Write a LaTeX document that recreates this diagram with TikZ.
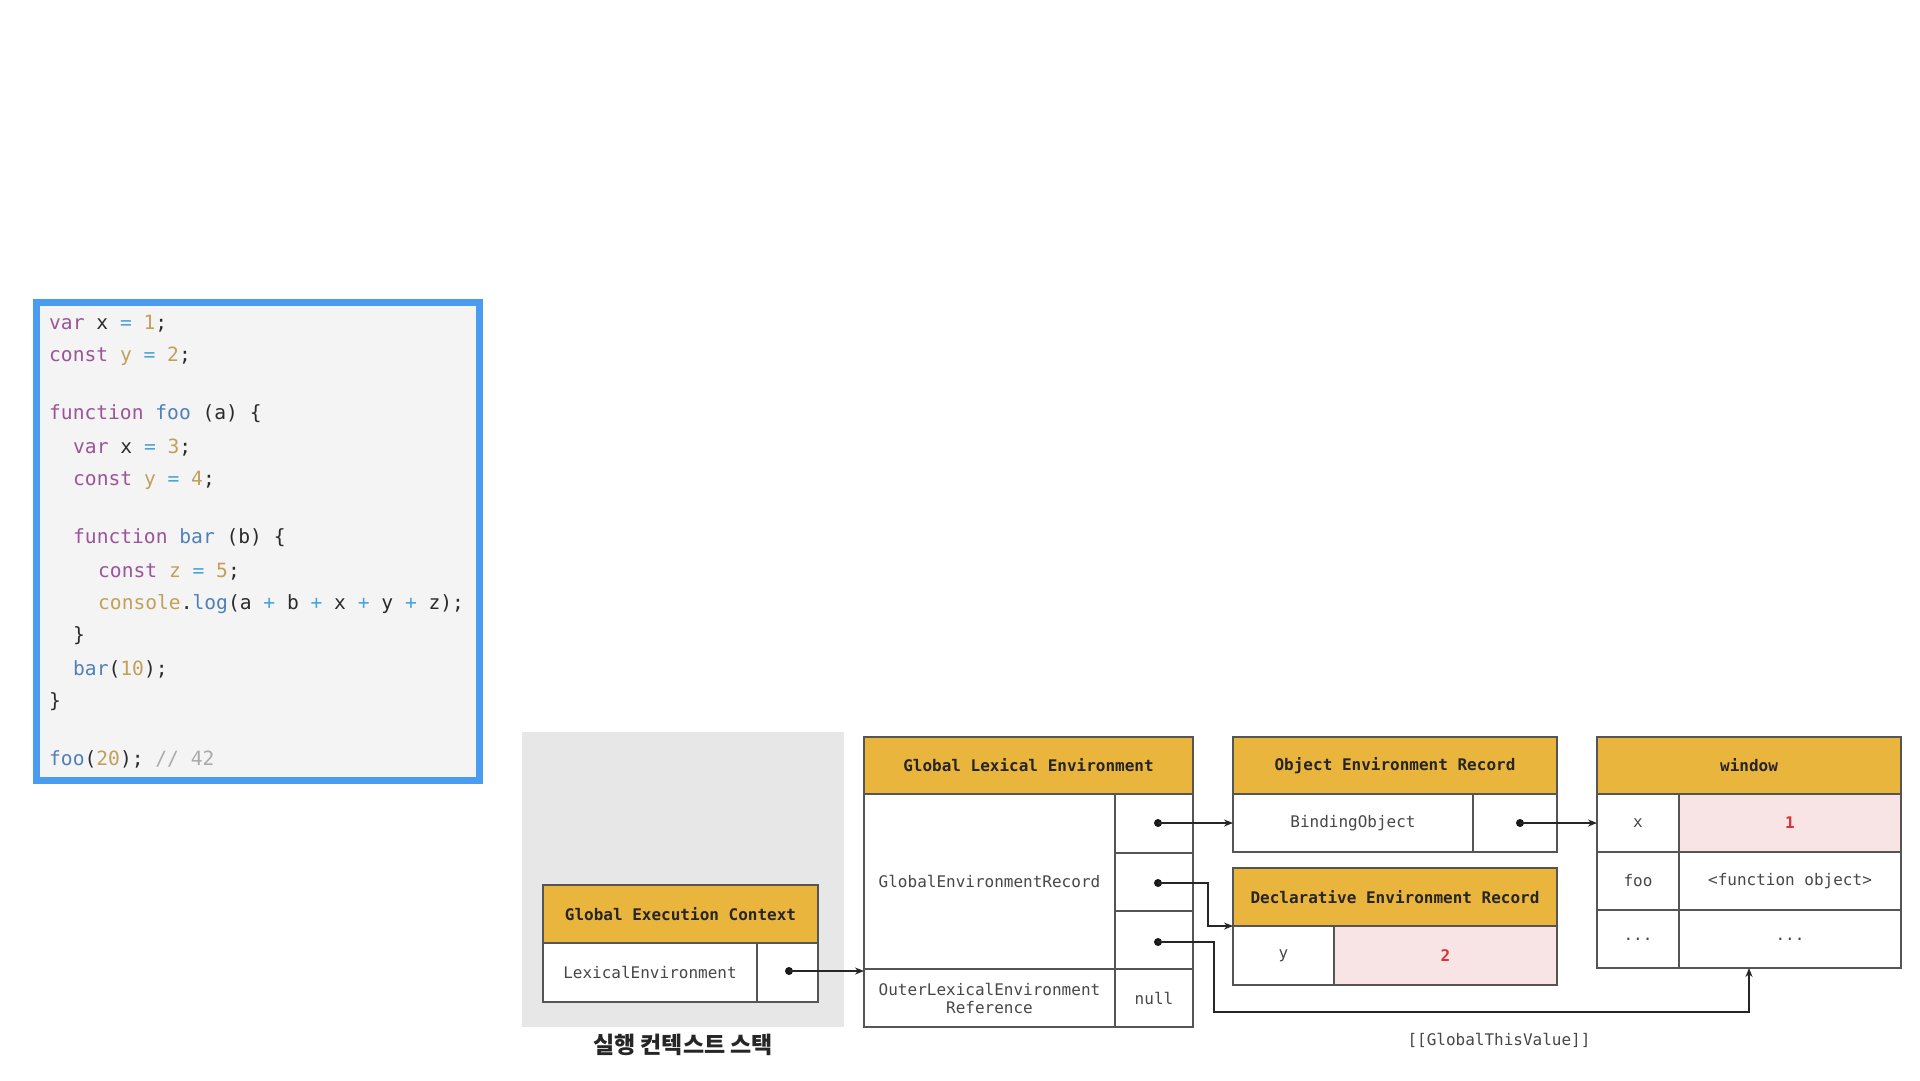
\documentclass[tikz,border=0pt]{standalone}
\usepackage{fontspec}
\setmonofont{DejaVu Sans Mono}
\newfontfamily\cjk{Noto Sans CJK KR}
\usetikzlibrary{arrows.meta}
\definecolor{gold}{HTML}{EAB53C}
\definecolor{pinkc}{HTML}{F8E4E4}
\definecolor{redt}{HTML}{D6343A}
\definecolor{stackbg}{HTML}{E8E7E8}
\definecolor{linec}{HTML}{555555}
\definecolor{txtc}{HTML}{474747}
\definecolor{codebg}{HTML}{F4F4F4}
\definecolor{codeborder}{HTML}{4A9CF0}
\definecolor{kwc}{HTML}{9C5499}
\definecolor{numc}{HTML}{C2A05A}
\definecolor{fnc}{HTML}{4F80BA}
\definecolor{opc}{HTML}{4AA3DC}
\definecolor{cmc}{HTML}{AAAAAA}
\definecolor{plainc}{HTML}{2A2A2A}
\newcommand\cKw[1]{\textcolor{kwc}{#1}}
\newcommand\cNum[1]{\textcolor{numc}{#1}}
\newcommand\cFn[1]{\textcolor{fnc}{#1}}
\newcommand\cOp[1]{\textcolor{opc}{#1}}
\newcommand\cCm[1]{\textcolor{cmc}{#1}}
\begin{document}
\begin{tikzpicture}[x=1pt,y=-1pt,
  codeline/.style={anchor=base west,inner sep=0pt,text=plainc,font=\ttfamily\fontsize{19.6}{23}\selectfont},
  hdr/.style={draw=linec,line width=1.6pt,fill=gold,inner sep=0pt,outer sep=0pt,text=black!85,font=\ttfamily\bfseries\fontsize{16}{19}\selectfont},
  cell/.style={draw=linec,line width=1.6pt,fill=white,inner sep=0pt,outer sep=0pt,text=txtc,align=center,font=\ttfamily\fontsize{16}{19}\selectfont},
  pcell/.style={cell,fill=pinkc,text=redt,font=\ttfamily\bfseries\fontsize{16}{19}\selectfont},
  dotc/.style={circle,fill=black!90,inner sep=0pt,minimum size=8pt},
  conn/.style={draw=black!85,line width=1.8pt,-{Stealth[length=9pt,width=7pt]}},
  lbl/.style={inner sep=0pt,text=txtc,font=\ttfamily\fontsize{16}{19}\selectfont}]
\useasboundingbox[fill=white] (0,0) rectangle (1920,1080);

% ---------- code panel ----------
\draw[codeborder,line width=7pt,fill=codebg] (36.5,302.5) rectangle (479.5,780.5);
\node[codeline] (l1) at (49,329) {\cKw{var} x \cOp{=} \cNum{1};};
\node[codeline] (l2) at (49,361) {\cKw{const} \cNum{y} \cOp{=} \cNum{2};};
\node[codeline] (l3) at (49,419) {\cKw{function} \cFn{foo} (a) \{};
\node[codeline] (l4) at (73,453) {\cKw{var} x \cOp{=} \cNum{3};};
\node[codeline] (l5) at (73,485) {\cKw{const} \cNum{y} \cOp{=} \cNum{4};};
\node[codeline] (l6) at (73,543) {\cKw{function} \cFn{bar} (b) \{};
\node[codeline] (l7) at (98,577) {\cKw{const} \cNum{z} \cOp{=} \cNum{5};};
\node[codeline] (l8) at (98,609) {\cNum{console}.\cFn{log}(a \cOp{+} b \cOp{+} x \cOp{+} y \cOp{+} z);};
\node[codeline] (l9) at (73,641) {\}};
\node[codeline] (l10) at (73,675) {\cFn{bar}(\cNum{10});};
\node[codeline] (l11) at (49,707) {\}};
\node[codeline] (l12) at (49,765) {\cFn{foo}(\cNum{20}); \cCm{// 42}};

% ---------- execution context stack ----------
\fill[stackbg] (522,732) rectangle (844,1027);
\node[font=\cjk\bfseries\fontsize{23}{26}\selectfont,text=black!85,inner sep=0pt] (stacklbl) at (683,1045) {실행 컨텍스트 스택};

\node[hdr,minimum width=275pt,minimum height=58pt] (gec) at (680.5,914) {Global Execution Context};
\node[cell,minimum width=214pt,minimum height=59pt] (gecle) at (650,972.5) {LexicalEnvironment};
\node[cell,minimum width=61pt,minimum height=59pt] (gecp) at (787.5,972.5) {};

% ---------- Global Lexical Environment ----------
\node[hdr,minimum width=329pt,minimum height=57pt] (gle) at (1028.5,765.5) {Global Lexical Environment};
\node[cell,minimum width=251pt,minimum height=175pt] (ger) at (989.5,881.5) {GlobalEnvironmentRecord};
\node[cell,minimum width=78pt,minimum height=59pt] (gp1) at (1154,823.5) {};
\node[cell,minimum width=78pt,minimum height=58pt] (gp2) at (1154,882) {};
\node[cell,minimum width=78pt,minimum height=58pt] (gp3) at (1154,940) {};
\node[cell,minimum width=251pt,minimum height=58pt] (outer) at (989.5,998) {OuterLexicalEnvironment\\[-1pt]Reference};
\node[cell,minimum width=78pt,minimum height=58pt] (null) at (1154,998) {null};

% ---------- Object Environment Record ----------
\node[hdr,minimum width=324pt,minimum height=57pt] (oer) at (1395,765.5) {Object Environment Record};
\node[cell,minimum width=240pt,minimum height=58pt] (bind) at (1353,823) {BindingObject};
\node[cell,minimum width=84pt,minimum height=58pt] (bindp) at (1515,823) {};

% ---------- Declarative Environment Record ----------
\node[hdr,minimum width=324pt,minimum height=58pt] (der) at (1395,897) {Declarative Environment Record};
\node[cell,minimum width=101pt,minimum height=59pt] (dery) at (1283.5,955.5) {y};
\node[pcell,minimum width=223pt,minimum height=59pt] (derv) at (1445.5,955.5) {2};

% ---------- window ----------
\node[hdr,minimum width=304pt,minimum height=57pt] (win) at (1749,765.5) {window};
\node[cell,minimum width=82pt,minimum height=58pt] (wk1) at (1638,823) {x};
\node[pcell,minimum width=222pt,minimum height=58pt] (wv1) at (1790,823) {1};
\node[cell,minimum width=82pt,minimum height=58pt] (wk2) at (1638,881) {foo};
\node[cell,minimum width=222pt,minimum height=58pt] (wv2) at (1790,881) {<function object>};
\node[cell,minimum width=82pt,minimum height=58pt] (wk3) at (1638,939) {...};
\node[cell,minimum width=222pt,minimum height=58pt] (wv3) at (1790,939) {...};

\node[lbl] (gtvlbl) at (1499,1040) {[[GlobalThisValue]]};

% ---------- pointers ----------
\node[dotc] (d0) at (789,971) {};
\node[dotc] (d1) at (1158,823) {};
\node[dotc] (d2) at (1158,883) {};
\node[dotc] (d3) at (1158,942) {};
\node[dotc] (d4) at (1520,823) {};
\coordinate (e2) at (1208,883);
\coordinate (e3) at (1214,1012);

\draw[conn] (d0.center) -- (d0.center -| ger.west);
\draw[conn] (d1.center) -- (d1.center -| bind.west);
\draw[conn] (d2.center) -- (e2) |- (dery.north west);
\draw[conn] (d3.center) -| (e3) -| (win.center |- wv3.south);
\draw[conn] (d4.center) -- (d4.center -| wk1.west);
\end{tikzpicture}
\end{document}
